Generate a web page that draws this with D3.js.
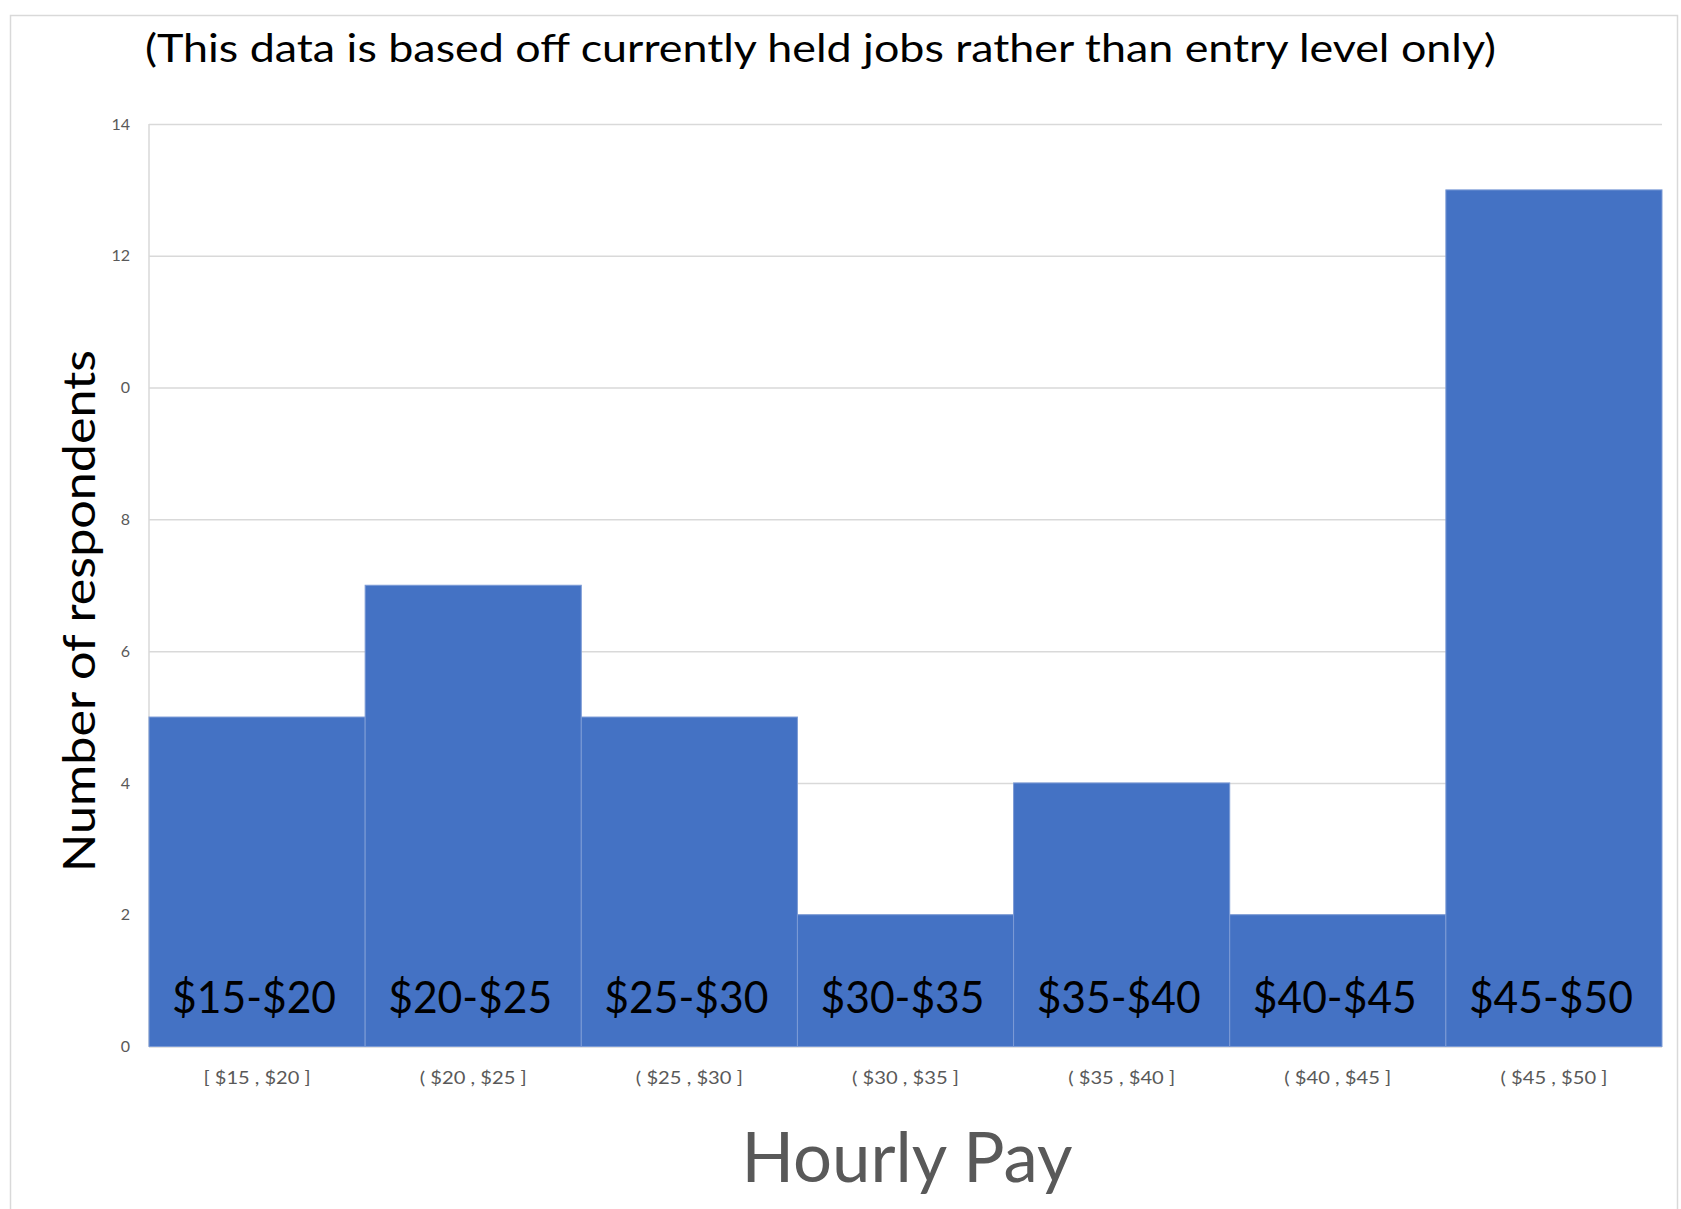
<!DOCTYPE html>
<html>
<head>
<meta charset="utf-8">
<script src="https://cdn.jsdelivr.net/npm/d3@7"></script>
<style>
  body { margin: 0; background: #fff; }
  text { font-family: Lato, "Open Sans", sans-serif; }
</style>
</head>
<body>
<div class="chart"></div>
<script>
// Chart data
var bins = ["15-20", "20-25", "25-30", "30-35", "35-40", "40-45", "45-50"];
var counts = [5, 7, 5, 2, 4, 2, 13];
var binLabels = ["$15-$20", "$20-$25", "$25-$30", "$30-$35", "$35-$40", "$40-$45", "$45-$50"];
var tickLabels = ["[ $15 , $20 ]", "( $20 , $25 ]", "( $25 , $30 ]", "( $30 , $35 ]", "( $35 , $40 ]", "( $40 , $45 ]", "( $45 , $50 ]"];
var yTicks = [0, 2, 4, 6, 8, 10, 12, 14];

var svgWidth = 1681;
var svgHeight = 1209;

var margin = { top: 124, bottom: 162.5, left: 149, right: 19 };
var width = svgWidth - margin.left - margin.right;
var height = svgHeight - margin.top - margin.bottom;

var svg = d3.select(".chart")
    .append("svg")
    .attr("width", svgWidth)
    .attr("height", svgHeight);

// light frame round the chart area
svg.append("rect")
    .attr("x", 10.5)
    .attr("y", 15.5)
    .attr("width", 1667)
    .attr("height", 1220)
    .attr("fill", "none")
    .attr("stroke", "#d9d9d9")
    .attr("stroke-width", 1.5);

var chartGroup = svg.append("g")
    .attr("transform", `translate(${margin.left}, ${margin.top})`);

// scales
var xScale = d3.scaleBand()
    .domain(bins)
    .range([0, width])
    .padding(0);

var yScale = d3.scaleLinear()
    .domain([0, 14])
    .range([height, 0]);

// gridlines
var grid = chartGroup.append("g")
    .attr("class", "grid")
    .call(d3.axisLeft(yScale).tickValues(yTicks).tickSize(-width).tickFormat(""));
grid.select(".domain").remove();
grid.selectAll("line").attr("stroke", "#d9d9d9").attr("stroke-width", 1.5);

// left axis line
chartGroup.append("line")
    .attr("x1", 0).attr("x2", 0)
    .attr("y1", 0).attr("y2", height)
    .attr("stroke", "#d9d9d9")
    .attr("stroke-width", 1.5);

// y tick labels
var leftAxis = chartGroup.append("g")
    .call(d3.axisLeft(yScale).tickValues(yTicks).tickSize(0).tickPadding(19));
leftAxis.select(".domain").remove();
leftAxis.selectAll("text")
    .attr("fill", "#595959")
    .style("font-size", "16px")
    .style("font-family", "Lato, 'Open Sans', sans-serif");

// bars
chartGroup.selectAll("rect.bar")
    .data(counts)
    .enter()
    .append("rect")
    .attr("class", "bar")
    .attr("x", (d, i) => xScale(bins[i]))
    .attr("y", d => yScale(d))
    .attr("width", xScale.bandwidth())
    .attr("height", d => height - yScale(d))
    .attr("fill", "#4472c4")
    .attr("stroke", "#7c9bd6")
    .attr("stroke-width", 1);

// labels inside bars
chartGroup.selectAll("text.binLabel")
    .data(binLabels)
    .enter()
    .append("text")
    .attr("class", "binLabel")
    .attr("x", (d, i) => xScale(bins[i]) + xScale.bandwidth() / 2 - 3)
    .attr("y", height - 34)
    .attr("text-anchor", "middle")
    .attr("textLength", 164)
    .attr("lengthAdjust", "spacingAndGlyphs")
    .style("font-size", "45px")
    .attr("fill", "#000")
    .text(d => d);

// bottom tick labels
var bottomAxis = chartGroup.append("g")
    .attr("transform", `translate(0, ${height})`)
    .call(d3.axisBottom(xScale).tickSize(0).tickPadding(25).tickFormat((d, i) => tickLabels[i]));
bottomAxis.select(".domain").remove();
bottomAxis.selectAll("text")
    .attr("fill", "#595959")
    .attr("textLength", 107)
    .attr("lengthAdjust", "spacingAndGlyphs")
    .style("font-size", "17px")
    .style("font-family", "Lato, 'Open Sans', sans-serif");

// white box behind the y title (it hides part of the "10" label)
svg.append("rect")
    .attr("x", 55)
    .attr("y", 345)
    .attr("width", 65)
    .attr("height", 532)
    .attr("fill", "#fff");

// axis titles
svg.append("text")
    .attr("transform", "translate(95, 611) rotate(-90)")
    .attr("text-anchor", "middle")
    .attr("textLength", 522)
    .attr("lengthAdjust", "spacingAndGlyphs")
    .style("font-size", "45px")
    .attr("fill", "#000")
    .text("Number  of respondents");

svg.append("text")
    .attr("x", 907)
    .attr("y", 1182)
    .attr("text-anchor", "middle")
    .attr("textLength", 331)
    .attr("lengthAdjust", "spacingAndGlyphs")
    .style("font-size", "69px")
    .attr("fill", "#595959")
    .text("Hourly Pay");

// subtitle
svg.append("text")
    .attr("x", 145)
    .attr("y", 62)
    .attr("textLength", 1351)
    .attr("lengthAdjust", "spacingAndGlyphs")
    .style("font-size", "39px")
    .attr("fill", "#000")
    .text("(This data is based off currently held jobs rather than entry level only)");
</script>
</body>
</html>
